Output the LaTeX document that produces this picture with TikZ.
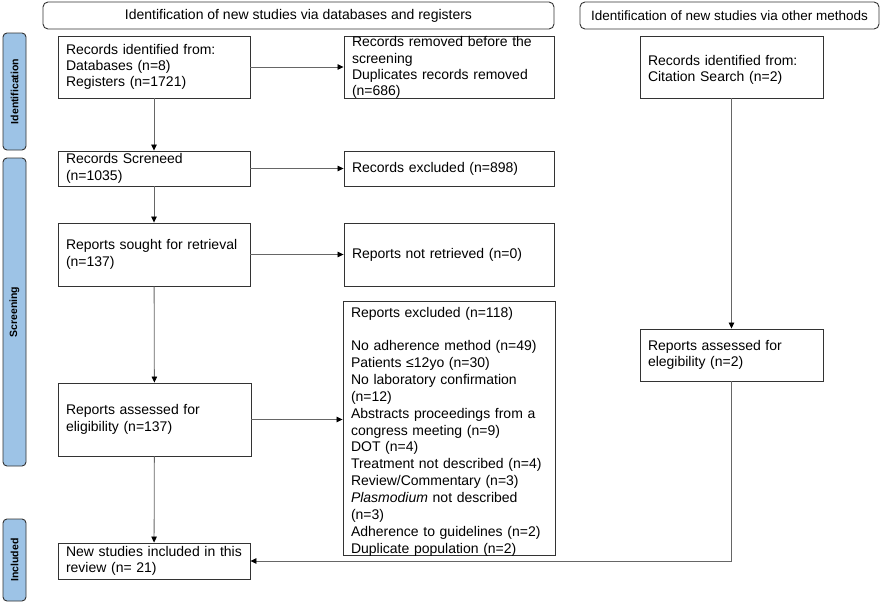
\documentclass[tikz,border=0pt]{standalone}
\usepackage{fontspec}
\setmainfont{Liberation Sans}
\usetikzlibrary{arrows.meta}
\definecolor{sideblue}{HTML}{9DC3E6}
\definecolor{edge}{HTML}{333333}
\definecolor{conngray}{HTML}{666666}
\begin{document}
\begin{tikzpicture}[x=1pt,y=-1pt,
  box/.style={draw=edge, line width=0.9pt, inner xsep=8pt, inner ysep=0pt, align=left,
    font=\fontsize{14}{16.5}\selectfont, anchor=center},
  hdr/.style={draw=edge, line width=0.9pt, rounded corners=5pt, inner sep=0pt,
    font=\fontsize{14}{16}\selectfont, minimum height=27pt, anchor=center},
  side/.style={draw=edge, fill=sideblue, line width=0.9pt, rounded corners=4pt, rotate=90,
    inner sep=0pt, minimum height=23pt, font=\bfseries\fontsize{10.5}{12}\selectfont, anchor=center},
  conn/.style={draw=conngray, line width=0.8pt},
  arr/.style={conn, -{Triangle[length=6pt,width=5.5pt,color=black]}}
]
\useasboundingbox (0,0) rectangle (886,605);
\fill[white] (0,0) rectangle (886,605);

% headers
\node[hdr, minimum width=511pt] (h1) at (298.5,15.5) {Identification of new studies via databases and registers};
\node[hdr, minimum width=299pt, font=\fontsize{13.5}{16}\selectfont] (h2) at (729.5,15.5) {Identification of new studies via other methods};

% side labels
\node[side, minimum width=117pt] (s1) at (14.5,91.5) {Identification};
\node[side, minimum width=308pt] (s2) at (14.5,312) {Screening};
\node[side, minimum width=82pt] (s3) at (14.5,560) {Included};

% left column
\node[box, text width=176pt, minimum height=62pt, font=\fontsize{14}{16}\selectfont] (A) at (154,67)
  {Records identified from:\\Databases (n=8)\\Registers (n=1721)};
\node[box, text width=176pt, minimum height=35pt] (B) at (154,168.5)
  {Records Screneed\\(n=1035)};
\node[box, text width=176pt, minimum height=63pt] (C) at (154,254.5)
  {Reports sought for retrieval\\(n=137)};
\node[box, text width=177pt, minimum height=73pt] (D) at (154.5,419.5)
  {Reports assessed for\\eligibility (n=137)};
\node[box, text width=176pt, minimum height=36pt] (E) at (154,561)
  {New studies included in this\\review (n= 21)};

% middle column
\node[box, text width=194pt, minimum height=62pt, font=\fontsize{14}{16.2}\selectfont] (F) at (449,67.5)
  {Records removed before the\\screening\\Duplicates records removed\\(n=686)};
\node[box, text width=194pt, minimum height=35pt] (G) at (449,168.5)
  {Records excluded (n=898)};
\node[box, text width=194pt, minimum height=63pt] (H) at (449,254.5)
  {Reports not retrieved (n=0)};
\node[box, text width=196pt, minimum height=253pt, font=\fontsize{14}{16.85}\selectfont] (I) at (449,428.5)
  {\rule{0pt}{16pt}Reports excluded (n=118)\\[16.85pt]
   No adherence method (n=49)\\
   Patients ≤12yo (n=30)\\
   No laboratory confirmation\\
   (n=12)\\
   Abstracts proceedings from a\\
   congress meeting (n=9)\\
   DOT (n=4)\\
   Treatment not described (n=4)\\
   Review/Commentary (n=3)\\
   \textit{Plasmodium} not described\\
   (n=3)\\
   Adherence to guidelines (n=2)\\
   Duplicate population (n=2)};

% right column
\node[box, text width=167pt, minimum height=62pt] (J) at (731.5,67)
  {\rule{0pt}{16pt}Records identified from:\\Citation Search (n=2)};
\node[box, text width=167pt, minimum height=52pt] (K) at (731.5,355)
  {Reports assessed for\\elegibility (n=2)};

% connectors
\draw[arr] (A) -- (B);
\draw[arr] (B) -- (C);
\draw[arr] (C) -- (D);
\draw[arr] (D) -- (E);
\draw[arr] (A.east) -- (F.west |- A.east);
\draw[arr] (B.east) -- (G.west);
\draw[arr] (C.east) -- (H.west);
\draw[arr] (D.east) -- (D.east -| I.west);
\draw[arr] (J) -- (K);
\draw[arr] (K.south) |- (E.east);
\end{tikzpicture}
\end{document}
